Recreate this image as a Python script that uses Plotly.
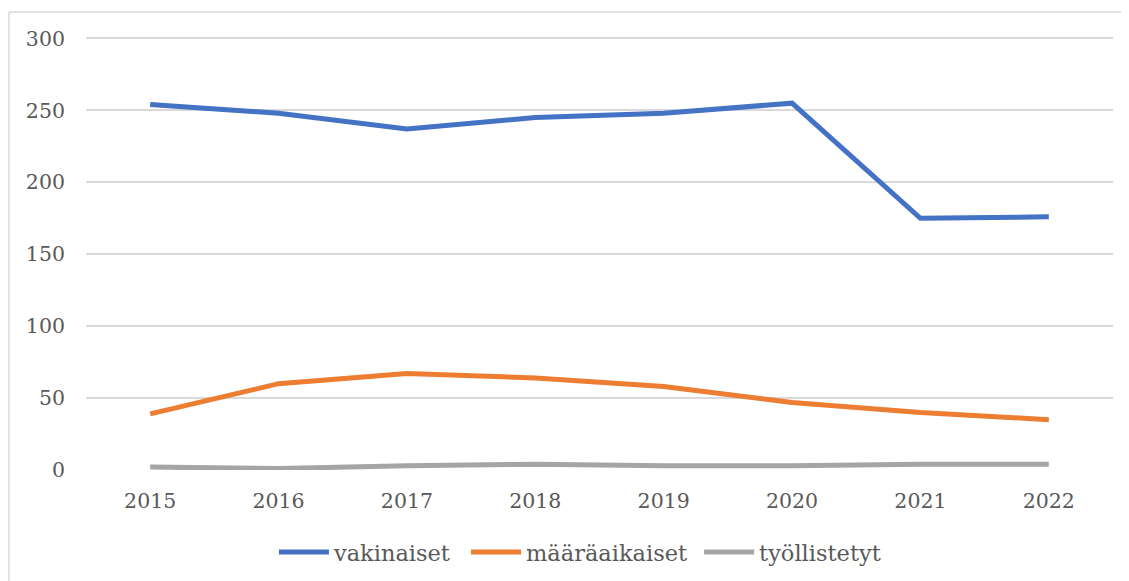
import plotly.graph_objects as go

years = ["2015", "2016", "2017", "2018", "2019", "2020", "2021", "2022"]
vakinaiset = [254, 248, 237, 245, 248, 255, 175, 176]
maaraaikaiset = [39, 60, 67, 64, 58, 47, 40, 35]
tyollistetyt = [2, 1, 3, 4, 3, 3, 4, 4]
y_ticks = [0, 50, 100, 150, 200, 250, 300]

series = [
    ("vakinaiset", vakinaiset, "#4472C4", "legend"),
    ("määräaikaiset", maaraaikaiset, "#ED7D31", "legend2"),
    ("työllistetyt", tyollistetyt, "#A5A5A5", "legend3"),
]
legend_x = {"legend": 0.183, "legend2": 0.370, "legend3": 0.597}

font_family = "DejaVu Serif"
text_color = "#595959"

fig = go.Figure()
for name, vals, color, lg in series:
    fig.add_trace(go.Scatter(
        x=years, y=vals, name=name, mode="lines", legend=lg,
        line=dict(color=color, width=5),
    ))

legend_common = dict(orientation="h", xanchor="left", y=-0.19, yanchor="middle",
                     font=dict(size=22.5, color=text_color), itemwidth=50,
                     bgcolor="rgba(0,0,0,0)")

# plot area: 0 -> y=470px, 300 -> y=38px (page); page has 8px body margin
fig.update_layout(
    width=1129, height=581,
    margin=dict(l=78, r=24, t=28.5, b=119),
    paper_bgcolor="white", plot_bgcolor="white",
    font=dict(family=font_family, size=20.5, color=text_color),
    showlegend=True,
    legend=dict(x=legend_x["legend"], **legend_common),
    legend2=dict(x=legend_x["legend2"], **legend_common),
    legend3=dict(x=legend_x["legend3"], **legend_common),
    xaxis=dict(type="category", range=[-0.5, 7.5], showgrid=False, zeroline=False,
               showline=False, ticks="outside", ticklen=12, tickcolor="rgba(0,0,0,0)"),
    yaxis=dict(range=[0, 301], tickvals=y_ticks, showgrid=True, gridcolor="#d9d9d9",
               gridwidth=1.5, zeroline=False, showline=False, ticklabelstandoff=20),
    shapes=[
        dict(type="line", xref="paper", yref="paper", x0=-0.075, x1=1.1, y0=1.058, y1=1.058,
             line=dict(color="#d9d9d9", width=1.5)),
        dict(type="line", xref="paper", yref="paper", x0=-0.075, x1=-0.075, y0=1.058, y1=-0.5,
             line=dict(color="#d9d9d9", width=1.5)),
    ],
)

fig.write_html("out.html")
